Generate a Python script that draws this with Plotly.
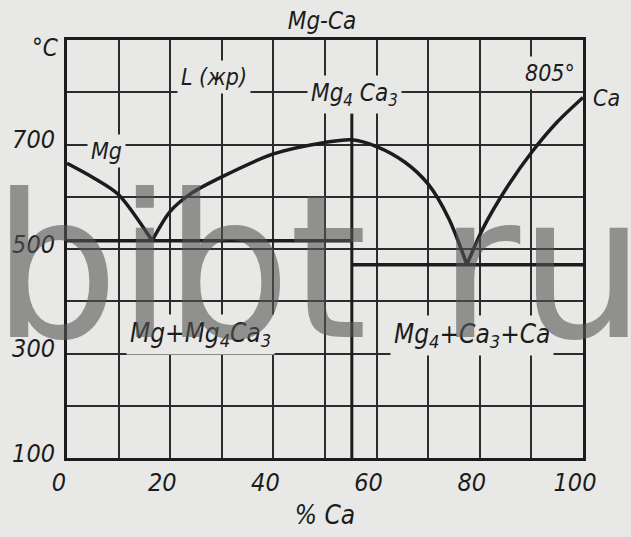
import plotly.graph_objects as go

# ---- data (wt.% Ca, temperature °C) ----
mg_liq_pct = [0, 5, 10, 16.5]
mg_liq_t = [664, 637, 604, 516]

cmp_liq_pct = [16.5, 20, 24, 30, 40, 50, 55.2, 60, 65.5, 70, 74, 77.5]
cmp_liq_t = [516, 572, 606, 638, 682, 704, 709, 696, 666, 624, 558, 470]

ca_liq_pct = [77.5, 80.6, 85.4, 90.2, 95, 100]
ca_liq_t = [470, 539, 620, 687, 743, 790]

eut1_pct = [0, 55.2]
eut1_t = [516, 516]
eut2_pct = [55.2, 100]
eut2_t = [470, 470]
compound_pct = [55.2, 55.2]
compound_t = [100, 760]

x_ticks = list(range(0, 101, 10))
x_labels = ["0", "", "20", "", "40", "", "60", "", "80", "", "100"]
y_ticks = list(range(100, 901, 100))
y_labels = ["100", "", "300", "", "500", "", "700", "", ""]

BG = "#e8e8e6"
INK = "#1c1c1c"
GRID = "#2c2c2c"
FONT = "DejaVu Sans Condensed, DejaVu Sans, sans-serif"

L, R, T, B = 62, 48, 40, 76
W, H = 631, 537
PW, PH = W - L - R, H - T - B


def px(x, y):
    return (x - L) / PW, (H - B - y) / PH


fig = go.Figure()
for xs, ys, w in [
    (mg_liq_pct, mg_liq_t, 3.5),
    (cmp_liq_pct, cmp_liq_t, 3.5),
    (ca_liq_pct, ca_liq_t, 3.5),
]:
    fig.add_trace(go.Scatter(x=xs, y=ys, mode="lines",
                             line=dict(color=INK, width=w, shape="spline", smoothing=0.8),
                             hoverinfo="skip", showlegend=False))
for xs, ys, w in [
    (eut1_pct, eut1_t, 3.5),
    (eut2_pct, eut2_t, 3.5),
    (compound_pct, compound_t, 3),
]:
    fig.add_trace(go.Scatter(x=xs, y=ys, mode="lines",
                             line=dict(color=INK, width=w),
                             hoverinfo="skip", showlegend=False))

labels = [
    ("L (жр)", 210, 77, 23, True),
    ("Mg<sub>4</sub> Ca<sub>3</sub>", 352, 95, 24, True),
    ("805°", 550, 73, 23, True),
    ("Ca", 607, 98, 23, False),
    ("Mg", 102, 152, 23, True),
    ("Mg+Mg<sub>4</sub>Ca<sub>3</sub>", 197, 337, 26, True),
    ("Mg<sub>4</sub>+Ca<sub>3</sub>+Ca", 471, 338, 26, True),
    ("°C", 40, 48, 24, False),
]
annots = []
for text, x, y, s, bg in labels:
    xp, yp = px(x, y)
    annots.append(dict(text=text, x=xp, y=yp, xref="paper", yref="paper",
                       xanchor="center", yanchor="middle", showarrow=False,
                       font=dict(family=FONT, size=s, color=INK, style="italic"),
                       bgcolor=BG if bg else None, borderpad=3))

# watermark letters
WM = "rgba(85,85,85,0.6)"
for ch, x in [("b", 50), ("i", 141), ("b", 224), ("t", 326), ("r", 479), ("u", 582)]:
    xp, yp = px(x, 269)
    annots.append(dict(text=ch, x=xp, y=yp, xref="paper", yref="paper",
                       xanchor="center", yanchor="middle", showarrow=False,
                       font=dict(family="DejaVu Sans", size=200, color=WM)))

fig.update_layout(
    width=W, height=H,
    margin=dict(l=L, r=R, t=T, b=B),
    paper_bgcolor=BG, plot_bgcolor=BG,
    title=dict(text="Mg-Ca", x=322 / W, xanchor="center", y=1 - 21 / H, yanchor="middle",
               font=dict(family=FONT, size=24, color=INK, style="italic")),
    annotations=annots,
    xaxis=dict(range=[0, 100], tickvals=x_ticks, ticktext=x_labels,
               showgrid=True, gridcolor=GRID, gridwidth=2,
               showline=True, mirror=True, linecolor=INK, linewidth=3,
               zeroline=False, ticks="", ticklabelshift=-8, ticklabelstandoff=0,
               tickfont=dict(family=FONT, size=25, color=INK, style="italic"),
               title=dict(text="% Ca", standoff=10,
                          font=dict(family=FONT, size=26, color=INK, style="italic"))),
    yaxis=dict(range=[100, 900], tickvals=y_ticks, ticktext=y_labels,
               showgrid=True, gridcolor=GRID, gridwidth=2,
               showline=True, mirror=True, linecolor=INK, linewidth=3,
               zeroline=False, ticks="", ticklabelshift=-5, ticklabelstandoff=4,
               tickfont=dict(family=FONT, size=25, color=INK, style="italic")),
)

fig.write_html(
    "out.html",
    config={"displayModeBar": False},
    post_script="document.body.style.margin='0';document.body.style.background='%s';" % BG,
)
